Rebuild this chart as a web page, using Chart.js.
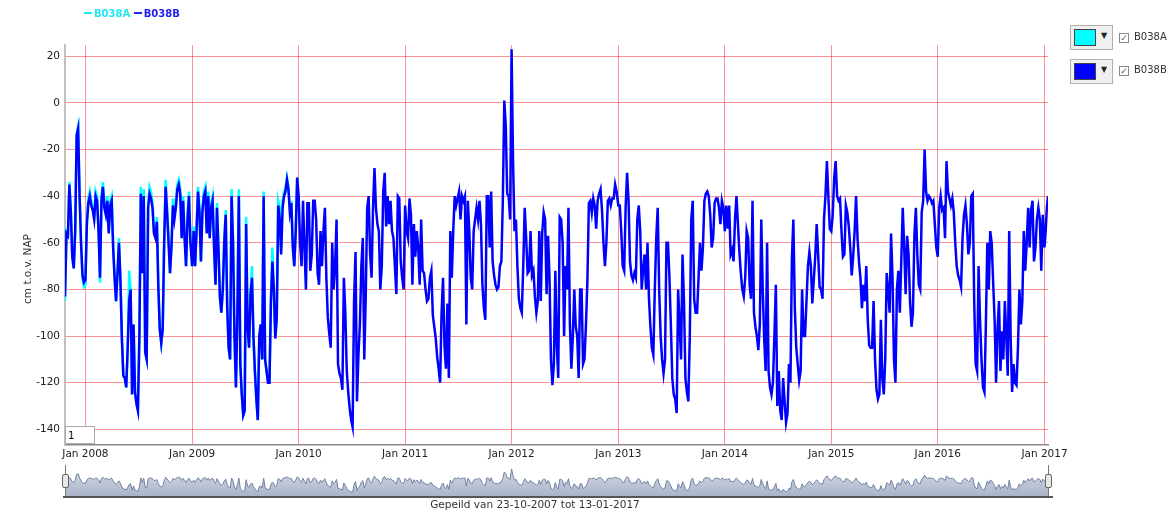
<!DOCTYPE html>
<html><head><meta charset="utf-8">
<script src="https://cdn.jsdelivr.net/npm/chart.js@4.4.1/dist/chart.umd.min.js"></script>
<style>
html,body{margin:0;padding:0;background:#fff;width:1176px;height:518px;overflow:hidden;font-family:"DejaVu Sans",Verdana,sans-serif;}
#wrap{position:relative;width:1176px;height:518px;}
#main{position:absolute;left:0;top:0;}
#nav{position:absolute;left:65px;top:462px;}
.abs{position:absolute;}
#legend{left:84px;top:8px;font-size:10px;font-weight:bold;white-space:nowrap;}
#legend .dash{display:inline-block;width:8px;height:2px;vertical-align:middle;margin-right:2px;position:relative;top:-1px;}
#ytitle{left:-12px;top:262px;width:80px;text-align:center;font-size:10.5px;color:#333;transform:rotate(-90deg);transform-origin:40px 7px;white-space:nowrap;}
#caption{left:335px;top:498px;width:400px;text-align:center;font-size:10.5px;color:#333;}
.ctl{left:1070px;width:41px;height:23px;border:1px solid #b9aea3;background:#f0f0f0;}
.ctl .sw{position:absolute;left:3px;top:3px;width:20px;height:15px;border:1px solid #444;}
.ctl .arr{position:absolute;left:30px;top:5px;font-size:8px;color:#222;}
.cb{left:1119px;width:8px;height:8px;border:1px solid #888;background:#fff;font-size:9px;line-height:8px;color:#555;text-align:center;}
.lbl{left:1134px;font-size:10px;color:#333;}
#inbox{left:65px;top:426px;width:30px;height:18px;border:1px solid #aaa;background:#fff;font-size:10px;line-height:18px;padding-left:2px;box-sizing:border-box;color:#000;}
.handle{width:5px;height:12px;border:1px solid #666;background:#e8e8e8;border-radius:2px;top:474px;}
</style>
</head><body>
<div id="wrap">
<canvas id="main" width="1176" height="518"></canvas>
<canvas id="nav" width="983" height="35"></canvas>
<div id="legend" class="abs"><span class="dash" style="background:#1ee8f4"></span><span style="color:#1ee8f4">B038A</span> <span class="dash" style="background:#2020ee"></span><span style="color:#2020ee">B038B</span></div>
<div id="ytitle" class="abs">cm t.o.v. NAP</div>
<div id="caption" class="abs">Gepeild van 23-10-2007 tot 13-01-2017</div>
<div class="abs ctl" style="top:25px"><div class="sw" style="background:#00ffff"></div><span class="arr">▼</span></div>
<div class="abs ctl" style="top:59px"><div class="sw" style="background:#0000ff"></div><span class="arr">▼</span></div>
<div class="abs cb" style="top:33px">✓</div>
<div class="abs cb" style="top:66px">✓</div>
<div class="abs lbl" style="top:31px">B038A</div>
<div class="abs lbl" style="top:64px">B038B</div>
<div id="inbox" class="abs">1</div>
<div class="abs" style="left:65px;top:465px;width:1px;height:32px;background:#777"></div>
<div class="abs" style="left:1048px;top:465px;width:1px;height:32px;background:#777"></div>
<div class="abs" style="left:63px;top:496px;width:990px;height:2px;background:#555"></div>
<div class="abs handle" style="left:62px"></div>
<div class="abs handle" style="left:1045px"></div>
</div>
<script>
// ---- data: readings every 5 days, cm t.o.v. NAP ----
const b038b_2007 = [-83,-56,-57,-35,-47,-66,-71,-55,-14,-11,-40,-60,-74,-77];
const b038b_2008 = [-76,-52,-43,-40,-44,-46,-50,-40,-42,-55,-75,-42,-36,-45,-48,-42,-56,-44,-42,-62,-75,-85,-73,-60,-76,-101,-117,-118,-122,-105,-85,-80,-125,-95,-124,-129,-132,-100,-39,-73,-40,-107,-110,-45,-39,-41,-45,-56,-58,-51,-79,-97,-103,-97,-60,-36,-47,-60,-73,-62,-44,-50,-45,-37,-35,-39,-58,-42,-58,-70,-50,-40,-60];
const b038b_2009 = [-70,-55,-70,-55,-38,-47,-68,-47,-40,-38,-56,-40,-58,-45,-42,-62,-78,-45,-62,-83,-90,-80,-60,-48,-87,-105,-110,-40,-60,-100,-122,-90,-40,-112,-125,-134,-132,-52,-96,-105,-82,-75,-100,-115,-127,-136,-100,-95,-110,-40,-110,-115,-120,-120,-85,-68,-80,-101,-92,-44,-50,-65,-45,-40,-38,-33,-37,-47,-43,-62,-70,-55,-32];
const b038b_2010 = [-40,-60,-70,-42,-62,-80,-43,-43,-72,-65,-42,-42,-50,-73,-78,-55,-70,-55,-45,-75,-92,-99,-105,-60,-80,-70,-50,-112,-116,-118,-123,-75,-90,-115,-124,-131,-136,-139,-85,-64,-128,-108,-95,-70,-58,-110,-83,-45,-40,-65,-75,-45,-28,-45,-52,-55,-80,-70,-38,-30,-53,-40,-52,-42,-55,-58,-70,-82,-40,-41,-68,-75,-80];
const b038b_2011 = [-44,-55,-58,-41,-48,-78,-52,-66,-55,-62,-78,-50,-72,-73,-80,-85,-84,-75,-72,-91,-96,-101,-109,-114,-120,-90,-75,-104,-114,-86,-118,-55,-75,-55,-40,-44,-41,-38,-50,-40,-42,-40,-95,-42,-55,-75,-80,-55,-50,-45,-50,-42,-52,-78,-88,-93,-40,-40,-62,-38,-68,-74,-78,-80,-79,-70,-68,-42,1,-10,-39,-40,-50];
const b038b_2012 = [23,-25,-55,-50,-70,-84,-88,-90,-70,-45,-58,-73,-72,-55,-74,-72,-83,-90,-85,-55,-85,-56,-47,-50,-82,-57,-75,-110,-121,-112,-72,-104,-118,-49,-50,-60,-100,-70,-80,-45,-95,-114,-100,-80,-96,-100,-118,-80,-80,-112,-110,-95,-76,-43,-42,-47,-41,-44,-54,-42,-39,-37,-46,-60,-70,-60,-42,-41,-44,-41,-41,-35,-38];
const b038b_2013 = [-44,-44,-55,-70,-72,-45,-30,-42,-68,-74,-76,-73,-75,-50,-44,-55,-80,-72,-65,-80,-60,-84,-96,-105,-108,-80,-58,-45,-80,-100,-110,-116,-110,-60,-60,-74,-95,-118,-125,-127,-133,-80,-95,-110,-65,-85,-118,-124,-128,-100,-50,-42,-84,-90,-90,-75,-60,-72,-62,-42,-39,-38,-40,-48,-62,-58,-43,-41,-41,-45,-52,-42,-45];
const b038b_2014 = [-55,-44,-54,-44,-65,-63,-68,-50,-40,-52,-64,-73,-80,-83,-75,-55,-58,-78,-84,-42,-90,-96,-100,-106,-95,-50,-80,-101,-115,-60,-115,-122,-125,-120,-100,-78,-130,-115,-132,-136,-118,-128,-137,-133,-112,-120,-67,-50,-88,-105,-112,-119,-115,-80,-100,-100,-85,-70,-64,-70,-86,-76,-66,-52,-65,-79,-80,-84,-50,-40,-25,-40,-54];
const b038b_2015 = [-55,-48,-32,-25,-40,-42,-41,-55,-66,-65,-44,-47,-53,-62,-74,-66,-55,-40,-58,-68,-75,-88,-78,-85,-70,-93,-104,-105,-105,-85,-110,-123,-127,-125,-93,-118,-125,-110,-73,-80,-90,-56,-75,-110,-120,-80,-72,-90,-68,-45,-62,-82,-57,-65,-85,-96,-90,-57,-45,-65,-78,-80,-47,-42,-20,-38,-42,-40,-41,-43,-42,-52,-62];
const b038b_2016 = [-66,-45,-40,-46,-45,-58,-25,-38,-41,-44,-41,-47,-60,-70,-74,-76,-79,-58,-48,-44,-52,-65,-60,-40,-39,-85,-112,-115,-70,-93,-110,-122,-124,-95,-60,-80,-55,-60,-77,-93,-120,-97,-85,-115,-98,-110,-85,-100,-117,-55,-101,-124,-112,-120,-121,-105,-80,-95,-85,-55,-72,-60,-45,-62,-46,-42,-68,-62,-50,-45,-50,-72,-48];
const dates_2017 = ["2017-01-01","2017-01-05","2017-01-09","2017-01-13"];
const b038b_2017 = [-62,-55,-45,-40];

const b038a_2007 = [-85,-55,-56,-34,-46,-66,-71,-54,-13,-10,-39,-60,-75,-79];
const b038a_2008 = [-78,-50,-41,-38,-42,-45,-49,-38,-40,-54,-77,-40,-34,-43,-47,-40,-55,-42,-40,-60,-75,-85,-73,-58,-76,-101,-117,-118,-122,-105,-72,-80,-125,-95,-124,-129,-132,-100,-36,-73,-37,-107,-110,-43,-36,-38,-43,-55,-56,-49,-79,-97,-103,-97,-58,-33,-45,-58,-73,-60,-41,-48,-42,-35,-33,-37,-57,-40,-57,-70,-48,-38,-58];
const b038a_2009 = [-70,-53,-70,-53,-36,-45,-68,-45,-38,-36,-55,-38,-57,-43,-40,-61,-78,-43,-61,-83,-90,-80,-58,-46,-87,-105,-110,-37,-58,-100,-122,-90,-37,-112,-125,-134,-132,-49,-96,-105,-82,-70,-100,-115,-127,-136,-100,-95,-110,-38,-110,-115,-120,-120,-85,-62,-80,-101,-92,-42,-45,-62,-42,-38,-36,-32,-36,-46,-42,-62,-70,-55,-32];

const tickYears = [2008,2009,2010,2011,2012,2013,2014,2015,2016,2017];
const tickLabels = ["Jan 2008","Jan 2009","Jan 2010","Jan 2011","Jan 2012","Jan 2013","Jan 2014","Jan 2015","Jan 2016","Jan 2017"];
const yTicks = [-140,-120,-100,-80,-60,-40,-20,0,20];

// ---- build points ----
const DAY = 864e5, STEP = 5*DAY;
function run(start, vals){ return vals.map((v,i)=>({x:start + i*STEP, y:v})); }
const ptsB = [].concat(
  run(Date.UTC(2007,9,23), b038b_2007),
  run(Date.UTC(2008,0,1), b038b_2008),
  run(Date.UTC(2009,0,1), b038b_2009),
  run(Date.UTC(2010,0,1), b038b_2010),
  run(Date.UTC(2011,0,1), b038b_2011),
  run(Date.UTC(2012,0,1), b038b_2012),
  run(Date.UTC(2013,0,1), b038b_2013),
  run(Date.UTC(2014,0,1), b038b_2014),
  run(Date.UTC(2015,0,1), b038b_2015),
  run(Date.UTC(2016,0,1), b038b_2016),
  dates_2017.map((d,i)=>({x:Date.parse(d+"T00:00:00Z"), y:b038b_2017[i]}))
);
const ptsA = [].concat(
  run(Date.UTC(2007,9,23), b038a_2007),
  run(Date.UTC(2008,0,1), b038a_2008),
  run(Date.UTC(2009,0,1), b038a_2009)
);
const xMin = Date.UTC(2007,9,23), xMax = Date.UTC(2017,0,13);
const gridCol = 'rgba(255,0,0,0.42)';
const tickFont = {family:'"DejaVu Sans", Verdana, sans-serif', size:10.5};

new Chart(document.getElementById('main'), {
  type:'line',
  data:{datasets:[
    {label:'B038A', data:ptsA, borderColor:'#00ffff', borderWidth:2.5, pointRadius:0, tension:0, order:2},
    {label:'B038B', data:ptsB, borderColor:'#0000ff', borderWidth:2.5, pointRadius:0, tension:0, order:1}
  ]},
  options:{
    responsive:false, animation:false,
    layout:{padding:{left:0,right:128,top:45,bottom:53}},
    plugins:{legend:{display:false}, tooltip:{enabled:false}},
    scales:{
      x:{type:'linear', min:xMin, max:xMax,
        afterBuildTicks:s=>{ s.ticks = tickYears.map(y=>({value:Date.UTC(y,0,1)})); },
        afterFit:s=>{ s.height = 20; },
        ticks:{autoSkip:false, maxRotation:0, padding:3, color:'#222', font:tickFont,
          callback:(v,i)=>tickLabels[i]},
        grid:{color:gridCol, drawTicks:false, lineWidth:1},
        border:{color:'#8a8a8a', width:1.5}
      },
      y:{type:'linear', min:-146.7, max:24.8,
        afterBuildTicks:s=>{ s.ticks = yTicks.map(v=>({value:v})); },
        afterFit:s=>{ s.width = 65; },
        ticks:{padding:5, color:'#222', font:tickFont, callback:v=>String(v)},
        grid:{color:gridCol, drawTicks:false, lineWidth:1},
        border:{color:'#c0c0c0', width:2}
      }
    }
  }
});

new Chart(document.getElementById('nav'), {
  type:'line',
  data:{datasets:[{data:ptsB, borderColor:'#7181a2', borderWidth:1, pointRadius:0, tension:0, fill:'start',
    backgroundColor:(c)=>{ const ch=c.chart; const a=ch.chartArea; if(!a) return '#c0c8d8';
      const g=ch.ctx.createLinearGradient(0,a.top,0,a.bottom); g.addColorStop(0,'#dfe3eb'); g.addColorStop(1,'#a9b3c8'); return g; }}]},
  options:{
    responsive:false, animation:false,
    layout:{padding:0},
    plugins:{legend:{display:false}, tooltip:{enabled:false}},
    scales:{
      x:{type:'linear', display:false, min:xMin, max:xMax},
      y:{type:'linear', display:false, min:-172, max:71}
    }
  }
});
</script>
</body></html>
